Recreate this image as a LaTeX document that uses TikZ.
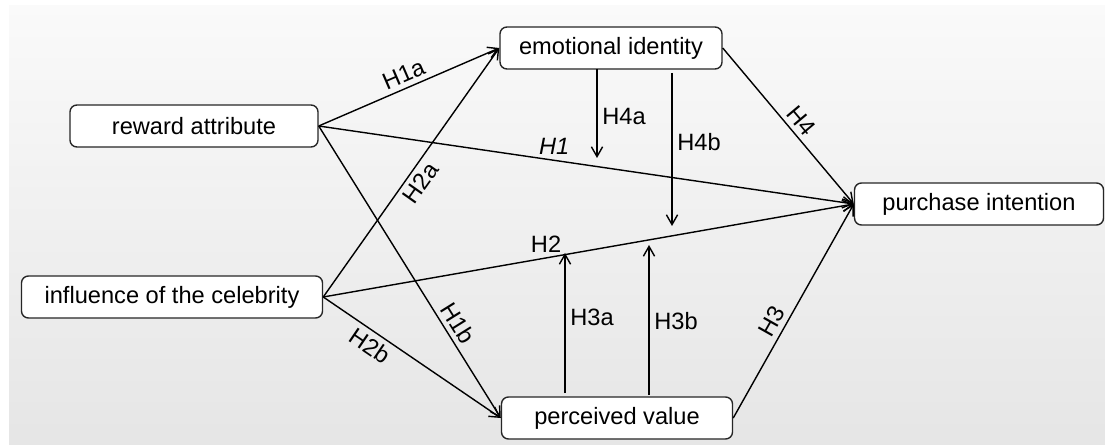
\documentclass[tikz,border=0pt]{standalone}
\usepackage{fontspec}
\setmainfont{Liberation Sans}
\usetikzlibrary{arrows.meta}

\begin{document}
\begin{tikzpicture}[x=0.025cm,y=-0.025cm,
  every node/.style={font=\fontsize{16.8}{20}\selectfont},
  box/.style={draw=black!85,line width=1pt,rounded corners=5pt,fill=white,minimum height=1.05cm,inner sep=0pt},
  arr/.style={-{Straight Barb[length=7pt,width=8pt]},line width=1pt}]
\useasboundingbox (0,0) rectangle (1105,445);
\shade[top color=white!98!black,bottom color=black!10] (9,6) rectangle (1105,445);

\node[box,minimum width=6.2cm] (v1) at (194,126) {reward attribute};
\node[box,minimum width=7.525cm] (v2) at (172,297) {influence of the celebrity};
\node[box,minimum width=5.55cm] (v3) at (611,48) {emotional identity};
\node[box,minimum width=5.775cm] (v4) at (617,418) {perceived value};
\node[box,minimum width=6.225cm] (v5) at (979,204) {purchase intention};

\draw (v1.east) edge[arr] node[sloped,above,pos=0.5] {H1a} (v3.west);
\draw (v1.east) edge[arr] node[above,pos=0.44] {\itshape H1} (v5.west);
\draw (v1.east) edge[arr] node[sloped,above,pos=0.7] {H1b} (v4.west);
\draw (v2.east) edge[arr] node[sloped,below,pos=0.49] {H2a} (v3.west);
\draw (v2.east) edge[arr] node[above,pos=0.42] {H2} (v5.west);
\draw (v2.east) edge[arr] node[sloped,below,pos=0.31] {H2b} (v4.west);
\draw (v3.east) edge[arr] node[sloped,above,pos=0.52] {H4} (v5.west);
\draw (v4.east) edge[arr] node[sloped,above,pos=0.42] {H3} (v5.west);

\coordinate (v6) at (597,69);
\coordinate (v7) at (597,158);
\coordinate (v8) at (672,73);
\coordinate (v9) at (672,226);
\coordinate (v10) at (565,393);
\coordinate (v11) at (565,253);
\coordinate (v12) at (649,395);
\coordinate (v13) at (649,245);
\draw (v6) edge[arr] node[right,pos=0.53] {H4a} (v7);
\draw (v8) edge[arr] node[right,pos=0.45] {H4b} (v9);
\draw (v10) edge[arr] node[right,pos=0.54] {H3a} (v11);
\draw (v12) edge[arr] node[right,pos=0.49] {H3b} (v13);
\end{tikzpicture}
\end{document}
